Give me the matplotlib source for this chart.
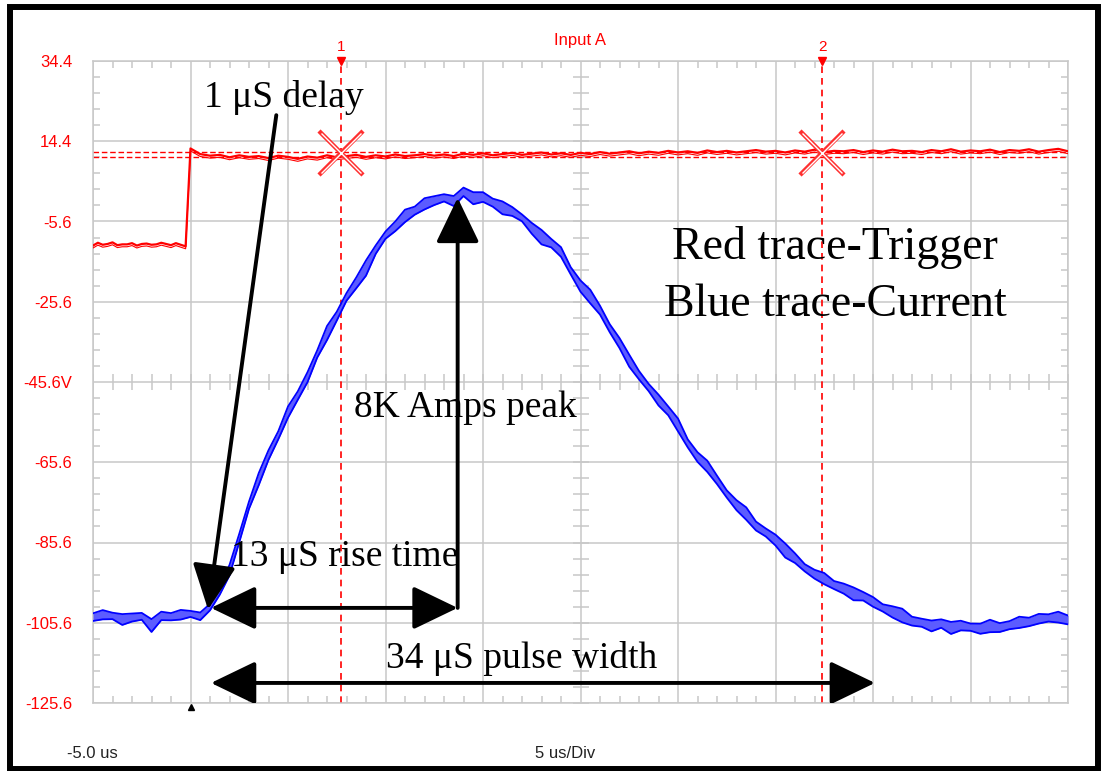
import numpy as np
import matplotlib.pyplot as plt
from matplotlib.patches import FancyArrowPatch, Rectangle

plt.rcParams['font.family'] = ['Liberation Sans', 'DejaVu Sans']

# scope sample times (us), 5 us/div, -5 us .. 45 us
blue_t = np.arange(-5, 45.5, 0.5)
# blue trace (current), centre of the band, volts
blue_mid = [-104.2, -103.6, -103.9, -104.8, -104.3, -104.0, -106.3, -103.9, -104.1, -103.6,
            -103.4, -104.0, -101.7, -97.5, -92.5, -84.5, -76.3, -69.8, -63.8, -58.9,
            -53.1, -49.0, -44.4, -38.6, -33.4, -29.2, -24.4, -20.9, -17.2, -12.6,
            -9.0, -6.8, -4.2, -2.9, -1.2, -0.4, 0.3, -0.5, 1.8, 0.2,
            0.5, -0.9, -2.2, -3.1, -4.7, -7.3, -9.5, -11.0, -13.2, -17.9,
            -21.7, -24.3, -27.7, -32.2, -35.9, -40.3, -43.9, -47.0, -50.1, -52.8,
            -56.3, -60.9, -64.3, -66.6, -70.0, -73.5, -76.3, -78.4, -81.5, -83.1,
            -85.0, -87.6, -89.5, -91.9, -93.5, -94.6, -96.2, -97.1, -98.4, -99.0,
            -100.4, -101.9, -102.9, -103.8, -105.2, -105.6, -106.4, -105.8, -106.9, -106.3,
            -106.7, -107.1, -106.4, -106.8, -106.2, -105.5, -105.4, -104.6, -104.4, -104.2,
            -104.9]
# thickness of the min/max band of the blue trace, volts
blue_band = [1.9, 2.3, 1.6, 2.7, 2.0, 1.7, 3.2, 2.1, 1.8, 2.4,
             1.5, 1.9, 1.6, 2.2, 2.6, 2.1, 1.8, 3.0, 2.4, 2.0,
             2.8, 2.1, 2.5, 1.8, 3.5, 2.2, 1.9, 2.7, 3.8, 2.1,
             1.8, 2.4, 3.1, 2.0, 2.8, 2.2, 1.8, 2.5, 2.1, 3.0,
             2.4, 2.0, 3.2, 2.2, 1.7, 2.7, 3.6, 2.1, 2.4, 1.8,
             2.8, 3.4, 2.2, 2.0, 2.5, 3.0, 2.1, 1.8, 2.7, 2.2,
             3.2, 2.0, 2.4, 2.8, 2.1, 1.8, 2.5, 3.1, 2.2, 2.0,
             2.7, 3.5, 2.4, 1.8, 2.2, 2.8, 2.0, 2.5, 3.2, 2.1,
             2.4, 1.8, 2.8, 3.4, 2.2, 2.0, 2.7, 2.1, 3.0, 2.4,
             1.8, 2.5, 3.1, 2.2, 2.0, 2.8, 2.1, 2.4, 1.8, 2.7,
             2.2]

# red trace (trigger)
red_pre_t = np.arange(-5, 0, 0.25)
red_pre = [-11.6, -10.9, -11.4, -11.2, -10.8, -11.5, -11.3, -11.3, -11.0, -11.6,
           -11.2, -11.1, -11.4, -11.3, -10.9, -11.2, -11.5, -11.0, -11.4, -11.8]
red_post_t = np.arange(0, 45.5, 0.5)
red_post = [12.6, 11.2, 10.8, 11.0, 10.4, 10.9, 10.5, 10.7, 10.2, 10.8,
            10.5, 10.0, 10.6, 10.3, 10.9, 10.4, 10.7, 11.0, 10.5, 10.9,
            10.6, 11.1, 10.7, 10.9, 11.2, 10.8, 11.1, 10.7, 11.3, 11.0,
            11.4, 10.9, 11.2, 11.5, 11.0, 11.3, 11.6, 11.1, 11.4, 11.0,
            11.5, 11.2, 11.7, 11.3, 11.6, 11.9, 11.4, 11.8, 11.5, 12.0,
            11.6, 11.9, 11.5, 12.1, 11.7, 12.0, 11.6, 11.9, 12.2, 11.8,
            12.0, 11.6, 12.1, 11.8, 12.3, 11.7, 12.0, 11.9, 12.2, 11.7,
            12.1, 11.8, 12.3, 11.9, 12.0, 11.7, 12.2, 11.9, 12.4, 11.8,
            12.1, 11.9, 12.3, 11.7, 12.2, 12.0, 12.4, 11.8, 12.2, 12.5,
            11.9]

cursor_t = [7.7, 32.4]
cursor_names = ['1', '2']
cursor_v = [11.5, 11.5]
ref_levels = [11.6, 10.4]

y_ticks = [34.4, 14.4, -5.6, -25.6, -45.6, -65.6, -85.6, -105.6, -125.6]
y_labels = ['34.4', '14.4', '-5.6', '-25.6', '-45.6V', '-65.6', '-85.6', '-105.6', '-125.6']

# annotation geometry (us, V)
t_start = 1.05
t_peak = 13.7
t_end = 35.1
v_base = -101.9
v_peak = 0.3
v_width = -120.6

grid_col = '#c8c8c8'

fig = plt.figure(figsize=(11.01, 7.71), dpi=100)
ax = fig.add_axes([93 / 1101, 1 - 703 / 771, 975 / 1101, 642 / 771])
ax.set_xlim(-5, 45)
ax.set_ylim(-125.6, 34.4)

ax.set_xticks(np.arange(-5, 46, 5))
ax.set_xticklabels([])
ax.set_yticks(y_ticks, y_labels)
ax.set_xticks(np.arange(-5, 45.1, 1), minor=True)
ax.set_yticks(np.arange(-125.6, 34.5, 4), minor=True)
ax.tick_params(which='major', length=0)
ax.tick_params(axis='y', which='major', pad=15, labelcolor='red', labelsize=12)
ax.tick_params(which='minor', direction='in', length=5, width=1.1, color=grid_col,
               top=True, right=True)
ax.grid(True, which='major', color=grid_col, lw=1.1)
ax.set_axisbelow(True)
for s in ax.spines.values():
    s.set_color(grid_col)
    s.set_linewidth(1.1)

# centre cross ticks of the graticule
minor_y = np.arange(-125.6, 34.5, 4)
minor_x = np.arange(-5, 45.1, 1)
ax.plot(np.full(len(minor_y), 20.0), minor_y, ls='none', marker='_', ms=11, mew=1.1,
        color=grid_col, zorder=1)
ax.plot(minor_x, np.full(len(minor_x), -45.6), ls='none', marker='|', ms=11, mew=1.1,
        color=grid_col, zorder=1)

# red trace and its reference levels
red_t = np.concatenate([red_pre_t, red_post_t])
red_v = np.concatenate([red_pre, red_post])
ax.plot(red_t, red_v, color='red', lw=1.6, zorder=3)
ax.plot(red_t, red_v - 0.6, color='red', lw=0.8, zorder=3)
for lv in ref_levels:
    ax.axhline(lv, color='red', lw=1.0, ls=(0, (4, 2)), zorder=2)

# blue trace as min/max band
mid = np.array(blue_mid)
half = np.array(blue_band) / 2
ax.fill_between(blue_t, mid - half, mid + half, color='#5c5cff', lw=0, zorder=4)
ax.plot(blue_t, mid - half, color='#0000ff', lw=1.3, zorder=4)
ax.plot(blue_t, mid + half, color='#0000ff', lw=1.3, zorder=4)

# cursors
for ct, name, cv in zip(cursor_t, cursor_names, cursor_v):
    ax.axvline(ct, color='red', lw=1.2, ls=(0, (4, 3)), zorder=2)
    ax.plot(ct, cv, marker='x', ms=31, mew=3.2, color='#ff3030', zorder=5)
    ax.plot(ct, cv, marker='x', ms=29, mew=1.0, color='white', zorder=5)
    ax.plot(ct, 1.0, marker='v', ms=6, color='red', transform=ax.get_xaxis_transform(),
            clip_on=False, zorder=6)
    ax.annotate(name, xy=(ct, 1.0), xycoords=('data', 'axes fraction'),
                xytext=(0, 10), textcoords='offset points', ha='center', va='center',
                color='red', fontsize=11)

ax.plot(0, -0.007, marker='^', ms=5, color='black', transform=ax.get_xaxis_transform(),
        clip_on=False)

fig.text(580 / 1101, 1 - 40 / 771, 'Input A', color='red', fontsize=12, ha='center', va='center')
fig.text(67 / 1101, 1 - 754 / 771, '-5.0 us', color='#222222', fontsize=12, ha='left', va='center')
fig.text(565 / 1101, 1 - 754 / 771, '5 us/Div', color='#222222', fontsize=12, ha='center', va='center')


def arrow(p0, p1, style):
    a = FancyArrowPatch(p0, p1, arrowstyle=style + ',head_length=28,head_width=13.5',
                        mutation_scale=1, lw=2.8, color='black', shrinkA=0, shrinkB=0,
                        zorder=7)
    ax.add_patch(a)


arrow((4.4, 20.9), (t_start - 0.15, v_base - 0.4), '-|>')
arrow((t_start, v_base), (t_peak, v_base), '<|-|>')
arrow((t_peak, v_base), (t_peak, v_peak), '-|>')
arrow((t_start, v_width), (t_end, v_width), '<|-|>')

serif = ['Liberation Serif', 'DejaVu Serif']
ax.text(4.8, 25.4, '1 \u03bcS delay', family=serif, fontsize=27, ha='center', va='center', zorder=8)
ax.text(14.1, -52.1, '8K Amps peak', family=serif, fontsize=27, ha='center', va='center', zorder=8)
ax.text(7.9, -89.2, '13 \u03bcS rise time', family=serif, fontsize=27, ha='center', va='center', zorder=8)
ax.text(17.0, -114.4, '34 \u03bcS pulse width', family=serif, fontsize=27, ha='center', va='center', zorder=8)
ax.text(33.05, -12.2, 'Red trace-Trigger', family=serif, fontsize=33, ha='center', va='center', zorder=8)
ax.text(33.05, -26.4, 'Blue trace-Current', family=serif, fontsize=33, ha='center', va='center', zorder=8)

fig.patches.append(Rectangle((10 / 1101, 1 - 768.5 / 771), 1088 / 1101, 762 / 771,
                             transform=fig.transFigure, fill=False, edgecolor='black', lw=4.3))

fig.savefig('out.png', dpi=100)
